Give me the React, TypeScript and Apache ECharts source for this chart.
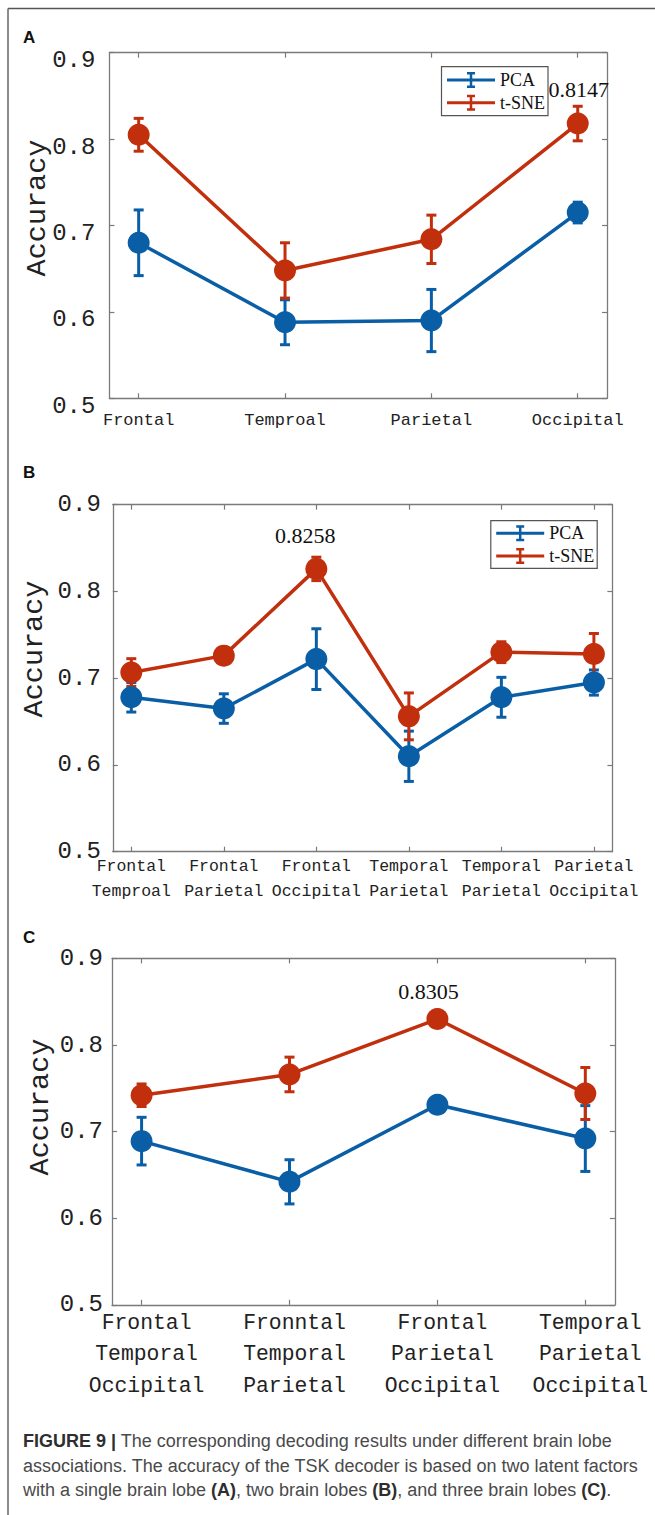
import React, { useEffect, useRef } from 'react';
import * as echarts from 'echarts';

// ---------- data ----------
const catA = ['Frontal', 'Temproal', 'Parietal', 'Occipital'];
const pcaA = [0.680, 0.588, 0.590, 0.715];
const pcaErrA = [0.038, 0.026, 0.036, 0.012];
const tsneA = [0.805, 0.648, 0.684, 0.818];
const tsneErrA = [0.019, 0.032, 0.028, 0.020];
const peakTextA = '0.8147';
const peakIdxA = 3;

const catB = ['Frontal\nTemproal', 'Frontal\nParietal', 'Frontal\nOccipital', 'Temporal\nParietal', 'Temporal\nParietal', 'Parietal\nOccipital'];
const pcaB = [0.678, 0.665, 0.722, 0.610, 0.678, 0.695];
const pcaErrB = [0.017, 0.017, 0.035, 0.029, 0.023, 0.0145];
const tsneB = [0.7065, 0.726, 0.826, 0.656, 0.730, 0.728];
const tsneErrB = [0.016, 0.006, 0.0135, 0.027, 0.012, 0.0235];
const peakTextB = '0.8258';
const peakIdxB = 2;

const catC = ['Frontal\nTemporal\nOccipital', 'Fronntal\nTemporal\nParietal', 'Frontal\nParietal\nOccipital', 'Temporal\nParietal\nOccipital'];
const pcaC = [0.689, 0.642, 0.731, 0.692];
const pcaErrC = [0.0275, 0.0255, 0.004, 0.038];
const tsneC = [0.742, 0.766, 0.830, 0.744];
const tsneErrC = [0.013, 0.020, 0.003, 0.030];
const peakTextC = '0.8305';
const peakIdxC = 2;

const yMin = 0.5;
const yMax = 0.9;
const yStep = 0.1;
const seriesNames = ['PCA', 't-SNE'];
const captionText =
  '{b|FIGURE 9 |} The corresponding decoding results under different brain lobe\n' +
  'associations. The accuracy of the TSK decoder is based on two latent factors\n' +
  'with a single brain lobe {b|(A)}, two brain lobes {b|(B)}, and three brain lobes {b|(C)}.';

// ---------- styles ----------
const BLUE = '#0a5ea6';
const RED = '#c12f0d';
const AXIS = '#7a7a7a';
const MONO = '"Liberation Mono", "Courier New", monospace';
const SERIF = '"Liberation Serif", "Times New Roman", serif';
const SANS = '"Liberation Sans", Arial, sans-serif';

const LEGEND_ICON =
  'path://M0 6.5H48V9.5H0Z M22.75 1H25.25V15H22.75Z M20 0H28V2.5H20Z M20 13.5H28V16H20Z';

type PanelCfg = {
  grid: { left: number; top: number; width: number; height: number };
  cats: string[];
  pca: number[]; pcaErr: number[];
  tsne: number[]; tsneErr: number[];
  peakIdx: number; peakText: string; peakDist: number; peakOff: [number, number];
  catFont: number; catLineHeight: number; catMargin: number; catPad: number[];
  yMargin: number; yVAlign: string; yLineHeight: number;
};

const panels: PanelCfg[] = [
  {
    grid: { left: 109.4, top: 52.7, width: 497.6, height: 345.6 },
    cats: catA, pca: pcaA, pcaErr: pcaErrA, tsne: tsneA, tsneErr: tsneErrA,
    peakIdx: peakIdxA, peakText: peakTextA, peakDist: 12, peakOff: [1, 0],
    catFont: 17, catLineHeight: 20, catMargin: 12, catPad: [0, 0, 0, 0],
    yMargin: 14, yVAlign: 'top', yLineHeight: 16,
  },
  {
    grid: { left: 112.8, top: 504.7, width: 499.6, height: 347 },
    cats: catB, pca: pcaB, pcaErr: pcaErrB, tsne: tsneB, tsneErr: tsneErrB,
    peakIdx: peakIdxB, peakText: peakTextB, peakDist: 11, peakOff: [-11, 0],
    catFont: 16.5, catLineHeight: 24.4, catMargin: 3, catPad: [0, 0, 0, 0],
    yMargin: 12, yVAlign: 'middle', yLineHeight: 24,
  },
  {
    grid: { left: 112, top: 958.4, width: 502.9, height: 346.4 },
    cats: catC, pca: pcaC, pcaErr: pcaErrC, tsne: tsneC, tsneErr: tsneErrC,
    peakIdx: peakIdxC, peakText: peakTextC, peakDist: 6, peakOff: [-9, 0],
    catFont: 21.4, catLineHeight: 31.8, catMargin: 2, catPad: [0, 0, 0, 10],
    yMargin: 9, yVAlign: 'middle', yLineHeight: 24,
  },
];

function errSeries(name: string, color: string, vals: number[], errs: number[], idx: number) {
  return {
    type: 'custom',
    name,
    xAxisIndex: idx * 2,
    yAxisIndex: idx * 2,
    silent: true,
    encode: { x: 0, y: [1, 2] },
    data: vals.map((v, i) => [i + 1, v - errs[i], v + errs[i]]),
    renderItem: (_p: any, api: any) => {
      const x = api.value(0);
      const top = api.coord([x, api.value(2)]);
      const bot = api.coord([x, api.value(1)]);
      const st = { stroke: color, lineWidth: 3 };
      const cw = 5;
      return {
        type: 'group',
        children: [
          { type: 'line', shape: { x1: top[0], y1: top[1], x2: bot[0], y2: bot[1] }, style: st },
          { type: 'line', shape: { x1: top[0] - cw, y1: top[1], x2: top[0] + cw, y2: top[1] }, style: st },
          { type: 'line', shape: { x1: bot[0] - cw, y1: bot[1], x2: bot[0] + cw, y2: bot[1] }, style: st },
        ],
      };
    },
  };
}

function lineSeries(name: string, color: string, vals: number[], idx: number, p?: PanelCfg) {
  return {
    type: 'line',
    name,
    xAxisIndex: idx * 2,
    yAxisIndex: idx * 2,
    symbol: 'circle',
    symbolSize: 22,
    silent: true,
    lineStyle: { color, width: 3.5 },
    itemStyle: { color },
    data: vals.map((v, i) => {
      if (p && i === p.peakIdx) {
        return {
          value: [i + 1, v],
          label: {
            show: true,
            position: 'top',
            distance: p.peakDist,
            offset: p.peakOff,
            formatter: p.peakText,
            fontFamily: SERIF,
            fontSize: 22,
            color: '#111',
          },
        };
      }
      return { value: [i + 1, v] };
    }),
  };
}

function buildOption() {
  const grid: any[] = [];
  const xAxis: any[] = [];
  const yAxis: any[] = [];
  const series: any[] = [];
  const lineStyle = { color: AXIS, width: 1.3 };
  const tick = { show: true, inside: true, length: 5, lineStyle: { color: AXIS, width: 1.2 } };

  panels.forEach((p, gi) => {
    grid.push({ ...p.grid });
    const ticks = p.cats.map((_, i) => i + 1);
    const xBase = {
      type: 'value', gridIndex: gi, min: 0.8, max: p.cats.length + 0.2,
      splitLine: { show: false },
      axisLine: { show: true, onZero: false, lineStyle },
    };
    xAxis.push({
      ...xBase,
      position: 'bottom',
      axisTick: { ...tick, customValues: ticks },
      axisLabel: {
        customValues: ticks,
        formatter: (v: number) => p.cats[Math.round(v) - 1] ?? '',
        fontFamily: MONO, fontSize: p.catFont, lineHeight: p.catLineHeight,
        color: '#222', margin: p.catMargin, padding: p.catPad, align: 'center',
      },
    });
    xAxis.push({
      ...xBase,
      position: 'top',
      axisTick: { ...tick, customValues: ticks },
      axisLabel: { show: false },
    });
    const yBase = {
      type: 'value', gridIndex: gi, min: yMin, max: yMax, interval: yStep,
      splitLine: { show: false },
      axisLine: { show: true, onZero: false, lineStyle },
      axisTick: tick,
    };
    yAxis.push({
      ...yBase,
      position: 'left',
      axisLabel: {
        formatter: (v: number) => v.toFixed(1),
        fontFamily: MONO, fontSize: 24, color: '#222', margin: p.yMargin,
        verticalAlign: p.yVAlign, lineHeight: p.yLineHeight,
      },
    });
    yAxis.push({ ...yBase, position: 'right', axisLabel: { show: false } });

    series.push(errSeries('PCA error', BLUE, p.pca, p.pcaErr, gi));
    series.push(lineSeries('PCA', BLUE, p.pca, gi));
    series.push(errSeries('t-SNE error', RED, p.tsne, p.tsneErr, gi));
    series.push(lineSeries('t-SNE', RED, p.tsne, gi, p));
  });

  const legendBase = {
    data: seriesNames,
    orient: 'vertical',
    icon: LEGEND_ICON,
    itemWidth: 48,
    itemHeight: 16,
    itemGap: 4.7,
    itemTextGap: 2,
    selectedMode: false,
    backgroundColor: '#ffffff',
    borderColor: '#555',
    borderWidth: 1.2,
    borderRadius: 0,
    textStyle: { fontFamily: SERIF, fontSize: 18, lineHeight: 18, color: '#111' },
    z: 1,
  };

  const legend = [
    { ...legendBase, left: 441.5, top: 66.7, padding: [4.3, 3, 4, 5.5] },
    { ...legendBase, left: 490.8, top: 520.7, padding: [3.6, 3, 3.3, 5.4] },
  ];

  const letter = (t: string, y: number) => ({
    type: 'text', x: 23, y,
    style: {
      text: t, fontFamily: SANS, fontSize: 17, fontWeight: 'bold', fill: '#111',
      align: 'left', verticalAlign: 'middle', textAlign: 'left', textVerticalAlign: 'middle',
    },
  });
  const yTitle = (x: number, y: number) => ({
    type: 'text', x, y, rotation: Math.PI / 2,
    style: {
      text: 'Accuracy', fontFamily: MONO, fontSize: 28.5, fill: '#222',
      align: 'center', verticalAlign: 'middle', textAlign: 'center', textVerticalAlign: 'middle',
    },
  });

  const graphic = [
    { type: 'line', shape: { x1: 8, y1: 8.5, x2: 655, y2: 8.5 }, style: { stroke: '#555', lineWidth: 1.5 } },
    { type: 'line', shape: { x1: 8, y1: 8.5, x2: 8, y2: 1515 }, style: { stroke: '#666', lineWidth: 1.5 } },
    letter('A', 37.5),
    letter('B', 472),
    letter('C', 937),
    yTitle(37.6, 208),
    yTitle(34.5, 649),
    yTitle(40.7, 1107),
    {
      type: 'text', x: 23, y: 1428.7,
      style: {
        text: captionText, fontFamily: SANS, fontSize: 18, lineHeight: 24.7, fill: '#4a4a4a',
        align: 'left', verticalAlign: 'top', textAlign: 'left', textVerticalAlign: 'top',
        rich: {
          b: { fontFamily: SANS, fontSize: 18, lineHeight: 24.7, fontWeight: 'bold', fill: '#2e2e2e', color: '#2e2e2e' },
        },
      },
    },
  ];

  return {
    animation: false,
    backgroundColor: '#ffffff',
    grid,
    xAxis,
    yAxis,
    series,
    legend,
    graphic,
  };
}

export default function App() {
  const ref = useRef<HTMLDivElement>(null);
  useEffect(() => {
    if (!ref.current) return;
    const chart = echarts.init(ref.current, undefined, { renderer: 'svg' });
    chart.setOption(buildOption() as any);
    return () => chart.dispose();
  }, []);
  return (
    <div
      ref={ref}
      style={{ position: 'absolute', left: 0, top: 0, width: 655, height: 1515, background: '#fff' }}
    />
  );
}
